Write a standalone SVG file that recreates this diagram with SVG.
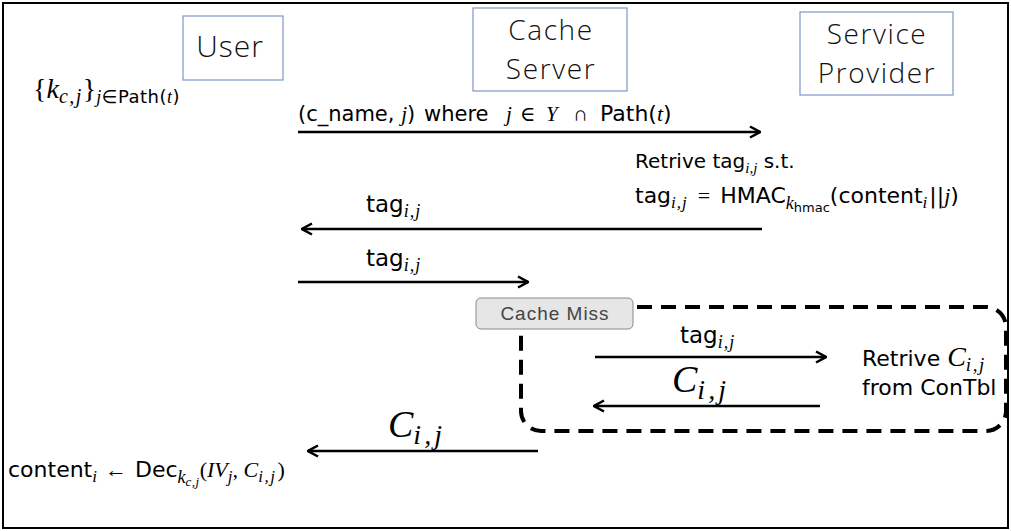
<svg xmlns="http://www.w3.org/2000/svg" width="1011" height="531" viewBox="0 0 1011 531">
<style>
.hdr{font-family:"Open Sans","Liberation Sans",sans-serif;font-weight:300;font-size:28px;letter-spacing:1.6px;fill:#111;text-anchor:middle}
.box{fill:#fff;stroke:#7f96c8;stroke-width:1.2}
.t{font-family:"DejaVu Sans","Liberation Sans",sans-serif;font-size:20px;fill:#000}
.m{font-family:"Liberation Serif","DejaVu Serif",serif;font-style:italic}
.r{font-family:"Liberation Serif","DejaVu Serif",serif;font-style:normal}
.big{font-family:"Liberation Serif","DejaVu Serif",serif;font-style:italic;font-size:38px}
.bigsub{font-size:28px;letter-spacing:3px}
.ln{stroke:#000;stroke-width:2.5;fill:none}
</style>
<defs>
<marker id="ah" viewBox="0 0 12 14" markerWidth="12" markerHeight="14" refX="11" refY="7" orient="auto" markerUnits="userSpaceOnUse">
<path d="M1,1.5 L11,7 L1,12.5" fill="none" stroke="#000" stroke-width="2.5"/>
</marker>
</defs>
<rect x="0" y="0" width="1011" height="531" fill="#fff"/>
<rect x="3" y="3" width="1005" height="525" fill="none" stroke="#000" stroke-width="2"/>

<g id="user">
<rect class="box" x="183" y="16" width="100" height="64"/>
<text class="hdr" style="font-size:30px;letter-spacing:1px" x="230" y="57">User</text>
</g>
<g id="cache-server">
<rect class="box" x="473" y="8" width="154" height="83"/>
<text class="hdr" x="551" y="40">Cache</text>
<text class="hdr" x="551" y="79">Server</text>
</g>
<g id="service-provider">
<rect class="box" x="800" y="12" width="153" height="83"/>
<text class="hdr" x="877" y="44">Service</text>
<text class="hdr" x="877" y="83">Provider</text>
</g>

<g id="cache-miss-region">
<rect x="521" y="307" width="485" height="124" rx="20" ry="20" fill="none" stroke="#000" stroke-width="4" stroke-dasharray="15,9"/>
</g>
<g id="cache-miss">
<rect x="476" y="298" width="157" height="31" rx="5" ry="5" fill="#e6e6e6" stroke="#8a8a8a" stroke-width="1"/>
<text x="555" y="320" text-anchor="middle" style="font-family:'Liberation Sans','DejaVu Sans',sans-serif;font-size:19px;letter-spacing:1px;fill:#444">Cache Miss</text>
</g>

<g id="texts">
<text class="t" x="33" y="98"><tspan class="r" style="font-size:28px">{</tspan><tspan class="m" style="font-size:28px">k</tspan><tspan class="m" style="font-size:20px;letter-spacing:1.5px" dy="5">c,j</tspan><tspan class="r" style="font-size:28px" dy="-5">}</tspan><tspan style="font-size:18px;letter-spacing:0.5px" dy="5"><tspan class="m">j</tspan>∈Path(<tspan class="m">t</tspan>)</tspan></text>

<text class="t" style="font-size:21px" y="121"><tspan x="298">(c_name, </tspan><tspan class="m">j</tspan>)<tspan x="424">where</tspan><tspan class="m" x="506">j</tspan><tspan class="r" x="520">∈</tspan><tspan class="m" x="546">Y</tspan><tspan class="r" x="573">∩</tspan><tspan x="600" style="font-size:22px">Path(</tspan><tspan class="m" style="font-size:22px">t</tspan><tspan style="font-size:22px">)</tspan></text>

<text class="t" x="635" y="168">Retrive tag<tspan class="m" style="font-size:15px" dy="5">i,j</tspan><tspan dy="-5"> s.t.</tspan></text>
<text class="t" style="font-size:22px" x="635" y="203">tag<tspan class="m" style="font-size:17px;letter-spacing:1px" dy="5">i,j</tspan><tspan class="r" dy="-5" dx="10">=</tspan><tspan dx="10">HMAC</tspan><tspan class="m" style="font-size:18px" dy="6">k</tspan><tspan style="font-size:13px" dy="3">hmac</tspan><tspan dy="-9">(content</tspan><tspan class="m" style="font-size:17px" dy="5">i</tspan><tspan dy="-5" dx="2">||</tspan><tspan class="m">j</tspan>)</text>

<text class="t" style="font-size:23px" x="366" y="212">tag<tspan class="m" style="font-size:18px;letter-spacing:1px" dy="5">i,j</tspan></text>
<text class="t" style="font-size:23px" x="366" y="266">tag<tspan class="m" style="font-size:18px;letter-spacing:1px" dy="5">i,j</tspan></text>
<text class="t" style="font-size:23px" x="680" y="343">tag<tspan class="m" style="font-size:18px;letter-spacing:1px" dy="5">i,j</tspan></text>

<text class="big" x="672" y="392">C<tspan class="bigsub" dy="7">i,j</tspan></text>
<text class="big" x="388" y="437">C<tspan class="bigsub" dy="7">i,j</tspan></text>

<text class="t" style="font-size:22px" x="862" y="366">Retrive <tspan class="m" style="font-size:28px">C</tspan><tspan class="m" style="font-size:19px;letter-spacing:1.5px" dy="5">i,j</tspan></text>
<text class="t" style="font-size:22px" x="862" y="395">from ConTbl</text>

<text class="t" style="font-size:22px" x="8" y="477">content<tspan class="m" style="font-size:17px" dy="5">i</tspan><tspan class="r" dy="-5" dx="8">←</tspan><tspan dx="8">Dec</tspan><tspan class="m" style="font-size:18px" dy="6">k</tspan><tspan class="m" style="font-size:13px;letter-spacing:0.5px" dy="3">c,j</tspan><tspan class="r" dy="-9">(</tspan><tspan class="m">IV</tspan><tspan class="m" style="font-size:17px" dy="5">j</tspan><tspan class="m" dy="-5">, C</tspan><tspan class="m" style="font-size:17px;letter-spacing:1.5px" dy="5">i,j</tspan><tspan class="r" dy="-5" dx="1">)</tspan></text>
</g>

<g id="connectors">
<line class="ln" x1="298" y1="132" x2="760" y2="132" marker-end="url(#ah)"/>
<line class="ln" x1="762" y1="229" x2="302" y2="229" marker-end="url(#ah)"/>
<line class="ln" x1="298" y1="282" x2="528" y2="282" marker-end="url(#ah)"/>
<line class="ln" x1="595" y1="357" x2="826" y2="357" marker-end="url(#ah)"/>
<line class="ln" x1="820" y1="406" x2="594" y2="406" marker-end="url(#ah)"/>
<line class="ln" x1="538" y1="451" x2="308" y2="451" marker-end="url(#ah)"/>
</g>
</svg>
